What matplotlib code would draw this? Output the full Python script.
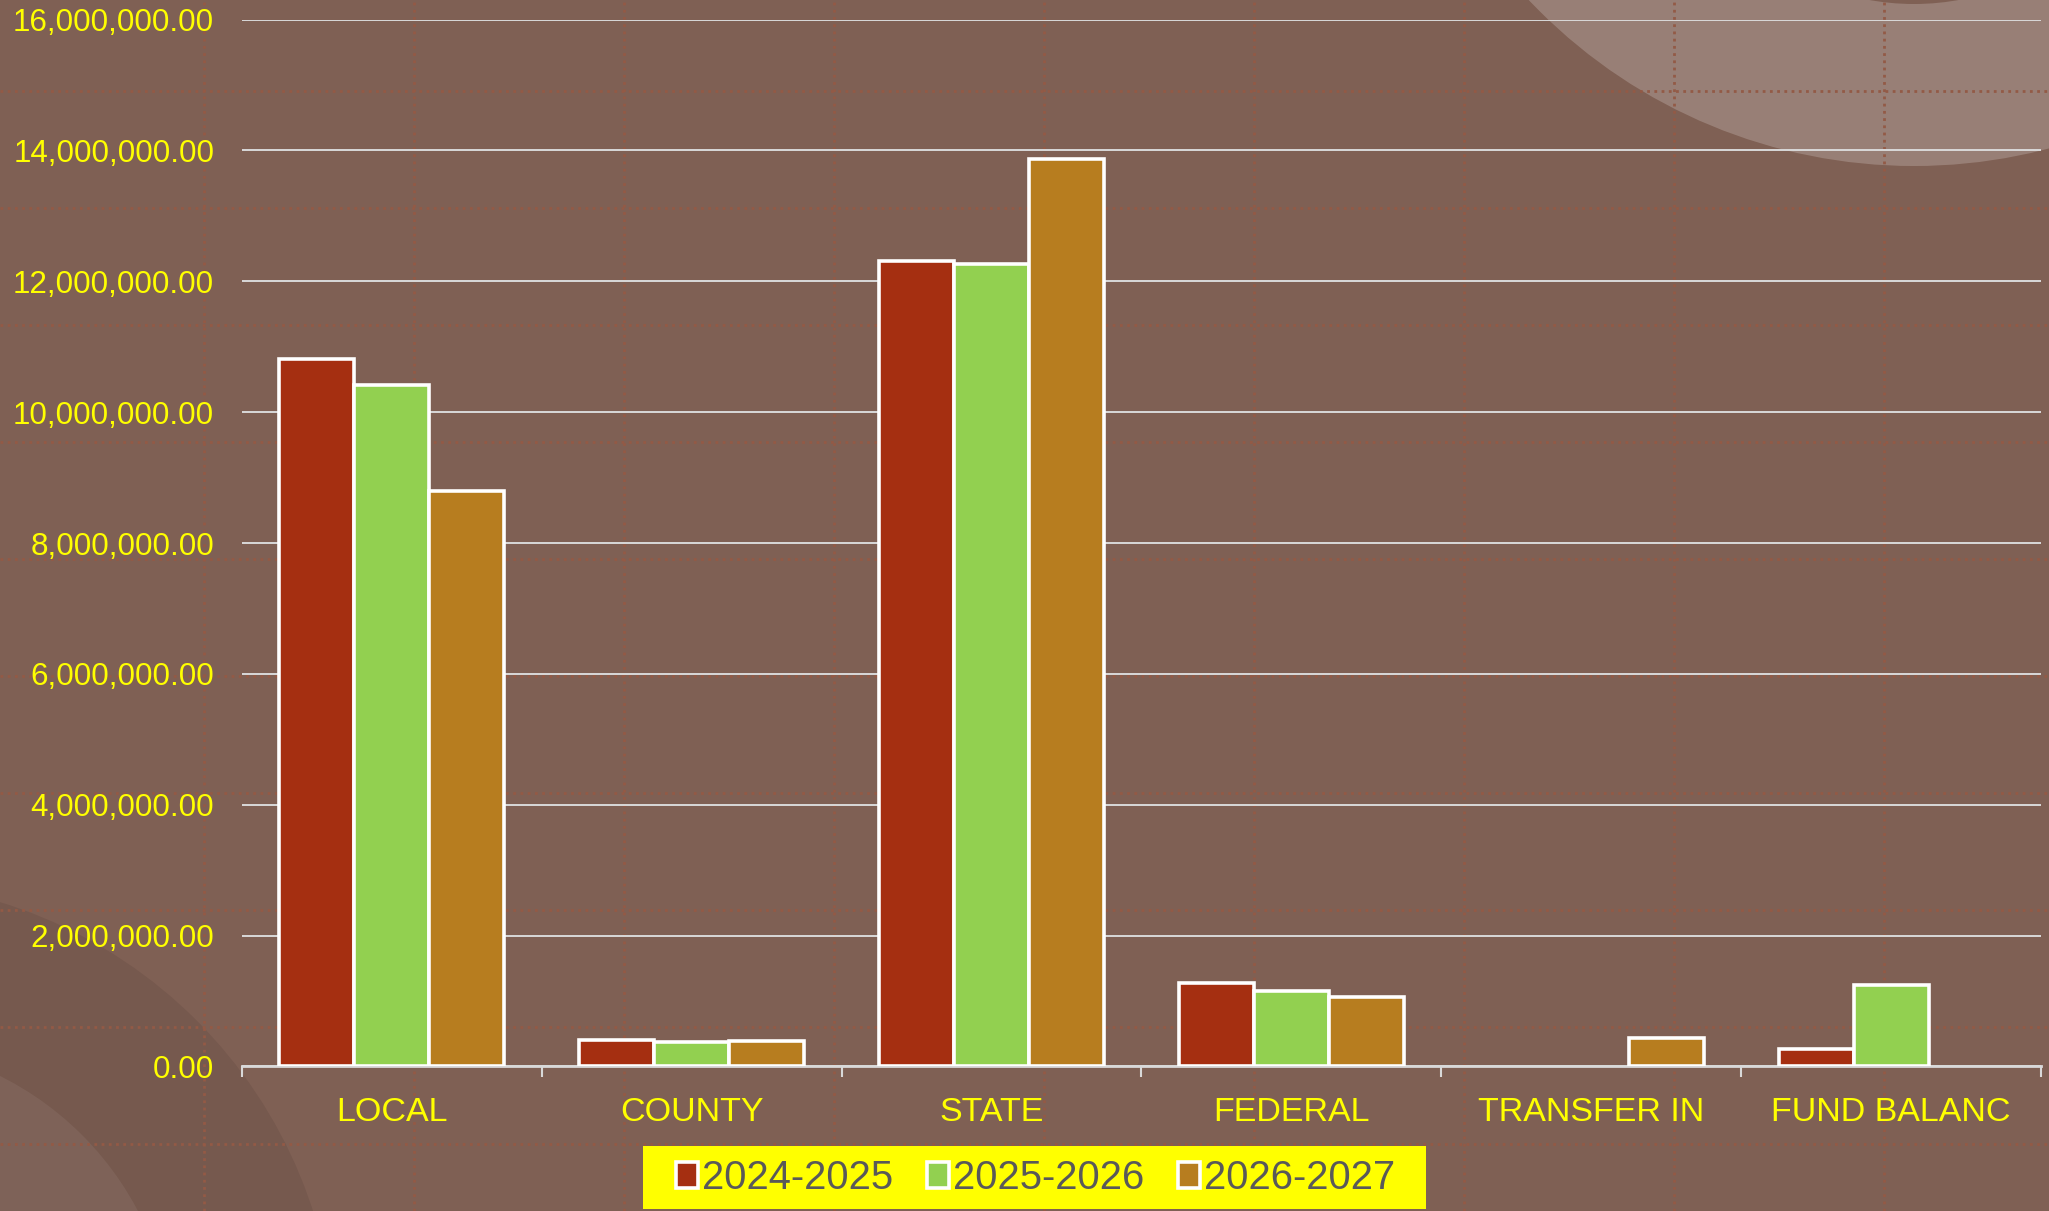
import matplotlib.pyplot as plt
from matplotlib.patches import Circle, Patch, Rectangle
import numpy as np

plt.rcParams['font.family'] = ['Liberation Sans', 'DejaVu Sans']

# data
categories = ['LOCAL', 'COUNTY', 'STATE', 'FEDERAL', 'TRANSFER IN', 'FUND BALANC']
years = ['2024-2025', '2025-2026', '2026-2027']
fy_2024_25 = [10810000, 400000, 12310000, 1270000, 0, 260000]
fy_2025_26 = [10410000, 370000, 12270000, 1160000, 0, 1250000]
fy_2026_27 = [8790000, 390000, 13870000, 1055000, 440000, 0]
y_ticks = [0, 2e6, 4e6, 6e6, 8e6, 10e6, 12e6, 14e6, 16e6]

colors = ['#A52F11', '#92D050', '#B77D1F']
bg = '#7F6054'
W, H = 2049, 1211

fig = plt.figure(figsize=(W / 100, H / 100), dpi=100, facecolor=bg)

# decorative backdrop, drawn in pixel coordinates
back = fig.add_axes([0, 0, 1, 1], zorder=0)
back.set_xlim(0, W)
back.set_ylim(H, 0)
back.axis('off')
for x in np.arange(204, W, 210):
    back.axvline(x, color='#935A46', lw=2.0, ls=(0, (1, 1.6)))
for y in np.arange(91, H, 117):
    back.axhline(y, color='#935A46', lw=2.0, ls=(0, (1, 1.6)))
back.add_patch(Circle((1914, -364), 530, color='white', alpha=0.2, lw=0))
back.add_patch(Circle((1914, -246), 250, color=bg, lw=0))
back.add_patch(Circle((-140, 1357), 476, color='black', alpha=0.07, lw=0))
back.add_patch(Circle((-140, 1357), 314, color='white', alpha=0.06, lw=0))
# legend box
back.add_patch(Rectangle((643, 1146), 783, 63, color='#FFFF00', lw=0, zorder=4))

ax = fig.add_axes([0.1181, 0.1194, 0.878, 0.8644], zorder=1)
ax.patch.set_alpha(0)

x = np.arange(len(categories))
width = 0.25
series = [fy_2024_25, fy_2025_26, fy_2026_27]
for i, (vals, c) in enumerate(zip(series, colors)):
    edges = ['white' if v > 0 else 'none' for v in vals]
    ax.bar(x + (i - 1) * width, vals, width, color=c, edgecolor=edges,
           linewidth=2.6, zorder=3)

ax.set_xlim(-0.5, len(categories) - 0.5)
ax.set_ylim(0, 16e6)
ax.set_yticks(y_ticks)
ax.set_yticklabels(['{:,.2f}'.format(v) for v in y_ticks])
ax.yaxis.grid(True, color='#D9D9D9', lw=1.4, zorder=1)
ax.set_axisbelow(True)

ax.set_xticks(x)
ax.set_xticklabels(categories)
ax.set_xticks(np.arange(-0.5, len(categories), 1), minor=True)
ax.tick_params(axis='x', which='major', length=0, pad=22, labelsize=24.5, labelcolor='#FFFF00')
ax.tick_params(axis='x', which='minor', length=8, width=1.5, color='#D9D9D9')
ax.tick_params(axis='y', length=0, pad=20, labelsize=22.6, labelcolor='#FFFF00')

for s in ['top', 'right', 'left']:
    ax.spines[s].set_visible(False)
ax.spines['bottom'].set_color('#D9D9D9')
ax.spines['bottom'].set_linewidth(2)

handles = [Patch(facecolor=c, edgecolor='white', linewidth=2.6) for c in colors]
leg = fig.legend(handles, years, loc='center', bbox_to_anchor=(0.5055, 0.0272), ncol=3,
                 fontsize=28.8, labelcolor='#595959', frameon=False,
                 handlelength=0.55, handleheight=0.6, handletextpad=0.1,
                 columnspacing=0.85, borderpad=0.3, borderaxespad=0)
leg.set_zorder(5)

fig.savefig('out.png', dpi=100, facecolor=bg)
